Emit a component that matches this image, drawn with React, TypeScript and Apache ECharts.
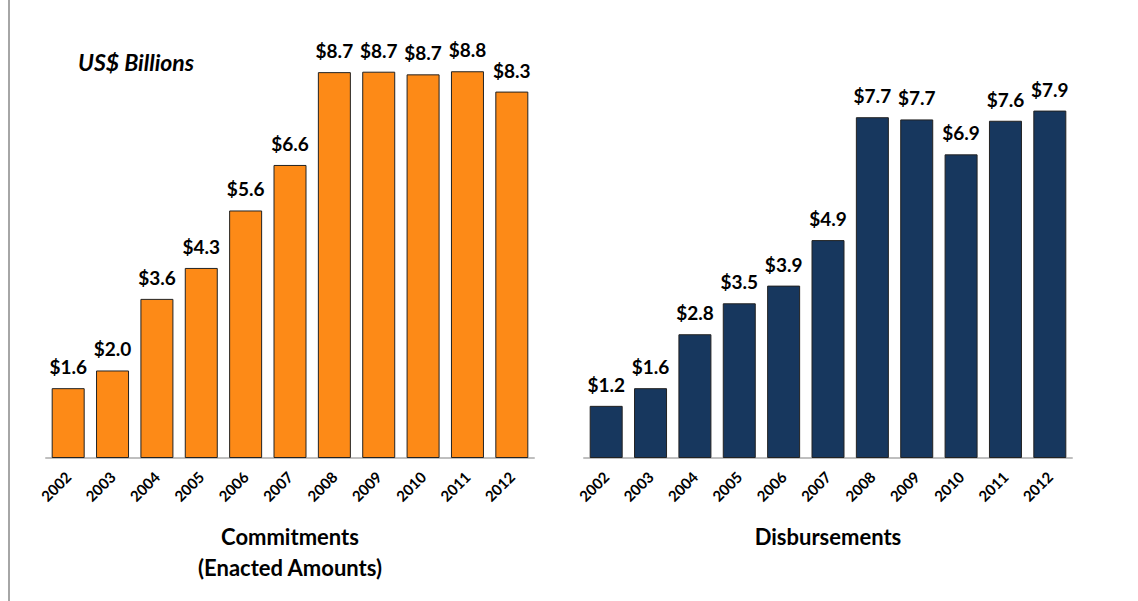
import React, { useEffect, useRef } from "react";
import * as echarts from "echarts";

const years = ["2002", "2003", "2004", "2005", "2006", "2007", "2008", "2009", "2010", "2011", "2012"];
const commitments = [1.58, 1.98, 3.6, 4.3, 5.6, 6.63, 8.73, 8.74, 8.68, 8.75, 8.29];
const disbursements = [1.18, 1.58, 2.8, 3.5, 3.9, 4.93, 7.71, 7.66, 6.87, 7.63, 7.86];
const commitLabels = ["$1.6", "$2.0", "$3.6", "$4.3", "$5.6", "$6.6", "$8.7", "$8.7", "$8.7", "$8.8", "$8.3"];
const disbLabels = ["$1.2", "$1.6", "$2.8", "$3.5", "$3.9", "$4.9", "$7.7", "$7.7", "$6.9", "$7.6", "$7.9"];

const FONT = "Lato, 'Open Sans', sans-serif";

export default function App() {
  const ref = useRef<HTMLDivElement>(null);
  useEffect(() => {
    if (!ref.current) return;
    const chart = echarts.init(ref.current, undefined, { renderer: "svg" });
    const xAxisBase = (gi: number) => ({
      type: "category" as const,
      gridIndex: gi,
      data: years,
      axisTick: { show: false },
      axisLine: { lineStyle: { color: "#bfbfbf", width: 2 } },
      axisLabel: {
        rotate: 45,
        fontFamily: FONT,
        fontWeight: "bold" as const,
        fontSize: 15,
        color: "#000",
        margin: 16,
      },
    });
    const yAxisBase = (gi: number) => ({
      type: "value" as const,
      gridIndex: gi,
      min: 0,
      max: 10,
      show: false,
      splitLine: { show: false },
    });
    const seriesBase = (gi: number, data: number[], labels: string[], color: string) => ({
      type: "bar" as const,
      xAxisIndex: gi,
      yAxisIndex: gi,
      data,
      barWidth: 33,
      itemStyle: { color, borderColor: "#222", borderWidth: 1 },
      label: {
        show: true,
        position: "top" as const,
        distance: 12,
        fontFamily: FONT,
        fontWeight: "bold" as const,
        fontSize: 19,
        color: "#000",
        formatter: (p: any) => labels[p.dataIndex],
      },
    });
    const title = (text: string, x: number, y: number) => ({
      type: "text",
      x,
      y,
      style: {
        text,
        fontFamily: FONT,
        fontWeight: "bold",
        fontSize: 22,
        fill: "#000",
        textAlign: "center",
        textVerticalAlign: "middle",
      },
    });
    chart.setOption({
      animation: false,
      backgroundColor: "#fff",
      grid: [
        { left: 46, width: 488, top: 16, bottom: 143 },
        { left: 584, width: 488, top: 16, bottom: 143 },
      ],
      xAxis: [xAxisBase(0), xAxisBase(1)],
      yAxis: [yAxisBase(0), yAxisBase(1)],
      series: [
        seriesBase(0, commitments, commitLabels, "#FD8A17"),
        seriesBase(1, disbursements, disbLabels, "#17375E"),
      ],
      graphic: [
        {
          type: "line",
          shape: { x1: 9, y1: 0, x2: 9, y2: 601 },
          style: { stroke: "#a6a6a6", lineWidth: 2 },
        },
        {
          type: "text",
          x: 78,
          y: 62,
          style: {
            text: "US$ Billions",
            fontFamily: FONT,
            fontWeight: "bold",
            fontStyle: "italic",
            fontSize: 23,
            fill: "#000",
            textVerticalAlign: "middle",
          },
        },
        title("Commitments", 290, 536),
        title("(Enacted Amounts)", 290, 567),
        title("Disbursements", 828, 536),
      ],
    });
    return () => chart.dispose();
  }, []);
  return (
    <div
      ref={ref}
      style={{ position: "absolute", left: 0, top: 0, width: 1138, height: 601 }}
    />
  );
}
